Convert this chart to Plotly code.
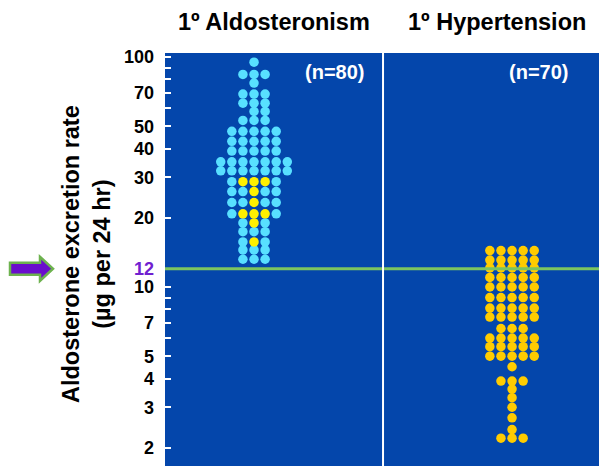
import math
import plotly.graph_objects as go

# Aldosterone excretion rate (µg per 24 hr), one entry per patient
aldo_cyan = [95,
             84, 84, 84,
             77,
             69, 69, 69,
             63, 63, 63,
             58, 58,
             53, 53, 53,
             47.5, 47.5, 47.5, 47.5, 47.5,
             43, 43, 43, 43, 43,
             39, 39, 39, 39, 39,
             35, 35, 35, 35, 35, 35, 35,
             32, 32, 32, 32, 32, 32, 32,
             28.7, 28.7,
             26, 26, 26, 26,
             23.3, 23.3, 23.3, 23.3,
             20.8, 20.8,
             19, 19,
             17.4, 17.4, 17.4,
             15.7, 15.7,
             14.5, 14.5, 14.5,
             13.2, 13.2, 13.2]
aldo_yellow = [28.7, 28.7, 28.7,
               26,
               23.3,
               20.8, 20.8, 20.8,
               19,
               15.7]
hyper = [14.4, 14.4, 14.4, 14.4, 14.4,
         13.1, 13.1, 13.1, 13.1, 13.1,
         12.1, 12.1, 12.1, 12.1, 12.1,
         11.0, 11.0, 11.0, 11.0, 11.0,
         10.0, 10.0, 10.0, 10.0, 10.0,
         9.0, 9.0, 9.0, 9.0, 9.0,
         8.1, 8.1, 8.1, 8.1, 8.1,
         7.4, 7.4, 7.4, 7.4, 7.4,
         6.6, 6.6, 6.6,
         6.0, 6.0, 6.0, 6.0, 6.0,
         5.5, 5.5, 5.5, 5.5, 5.5,
         5.0, 5.0, 5.0, 5.0, 5.0,
         4.5,
         3.9, 3.9, 3.9,
         3.6,
         3.3,
         3.0,
         2.7,
         2.4,
         2.2, 2.2, 2.2]

group_titles = ["1º Aldosteronism", "1º Hypertension"]
group_counts = ["(n=80)", "(n=70)"]
cutoff = 12

tick_vals = [2, 3, 4, 5, 7, 10, 12, 20, 30, 40, 50, 70, 100]
minor_vals = [6, 8, 9, 60, 80, 90]

CYAN, YELLOW, GOLD = "#58E0FF", "#FFF000", "#FFCC00"
BLUE, GREEN, PURPLE = "#0446AB", "#7CC55F", "#7020D0"

W, H = 599, 466
ML, MT = 165, 53
PW, PH = W - ML, H - MT
XR = [-1.69, 1.674]
YR = [0.2217, 2.0174]
STEP = 0.086


def swarm(groups, center):
    """Stack equal values into a row; the first colour flanks, others sit in the middle."""
    rows = {}
    for vals, col in groups:
        for v in vals:
            rows.setdefault(v, []).append(col)
    out = {col: ([], []) for _, col in groups}
    base_col = groups[0][1]
    for v, cols in rows.items():
        base = [c for c in cols if c == base_col]
        mid = [c for c in cols if c != base_col]
        order = base[:len(base) // 2] + mid + base[len(base) // 2:]
        n = len(order)
        for i, c in enumerate(order):
            out[c][0].append(center + (i - (n - 1) // 2) * STEP)
            out[c][1].append(v)
    return out


fig = go.Figure()

for center, groups in [(-1, [(aldo_cyan, CYAN), (aldo_yellow, YELLOW)]),
                       (1, [(hyper, GOLD)])]:
    pts = swarm(groups, center)
    for col, (xs, ys) in pts.items():
        fig.add_trace(go.Scatter(x=xs, y=ys, mode="markers",
                                 marker=dict(color=col, size=9.5, line=dict(width=0)),
                                 hoverinfo="y", showlegend=False))

# reference level
fig.add_trace(go.Scatter(x=XR, y=[cutoff, cutoff], mode="lines",
                         line=dict(color=GREEN, width=3),
                         hoverinfo="skip", showlegend=False))

# divider between the two groups
fig.add_shape(type="line", xref="x", yref="paper", x0=0, x1=0, y0=0, y1=1,
              line=dict(color="white", width=2))

tick_text = [f"<span style='color:{PURPLE}'>{v}</span>" if v == cutoff else str(v)
             for v in tick_vals]

fig.update_layout(
    width=W, height=H,
    margin=dict(l=ML, r=0, t=MT, b=0),
    paper_bgcolor="white", plot_bgcolor=BLUE,
    showlegend=False,
    xaxis=dict(range=XR, visible=False, fixedrange=True),
    yaxis=dict(type="log", range=YR, tickmode="array", tickvals=tick_vals,
               ticktext=tick_text, ticks="inside", ticklen=6, tickwidth=1.5,
               tickcolor="white", showgrid=False, zeroline=False, showline=False,
               layer="below traces", ticklabelstandoff=10,
               tickfont=dict(family="Liberation Sans, Arial", size=18,
                             color="black", weight="bold"),
               minor=dict(tickmode="array", tickvals=minor_vals, ticks="inside",
                          ticklen=6, tickwidth=1.5, tickcolor="white",
                          showgrid=False)),
)


def px_x(p):
    return (p - ML) / PW


def px_y(p):
    return (H - p) / PH


for t, cx in zip(group_titles, [274, 497]):
    fig.add_annotation(text=t, xref="paper", yref="paper", x=px_x(cx), y=px_y(22),
                       showarrow=False, xanchor="center", yanchor="middle",
                       font=dict(family="Liberation Sans, Arial", size=23.5,
                                 color="black", weight="bold"))

for t, cx in zip(group_counts, [334, 538]):
    fig.add_annotation(text=t, xref="paper", yref="paper", x=px_x(cx), y=px_y(72),
                       showarrow=False, xanchor="center", yanchor="middle",
                       font=dict(family="Liberation Sans, Arial", size=20,
                                 color="white", weight="bold"))

fig.add_annotation(text="Aldosterone excretion rate<br>(µg per 24 hr)",
                   xref="paper", yref="paper", x=px_x(86), y=px_y(254),
                   textangle=-90, showarrow=False, xanchor="center", yanchor="middle",
                   font=dict(family="Liberation Sans, Arial", size=23.5,
                             color="black", weight="bold"))

# block arrow pointing at the reference level
cy = MT + (YR[1] - math.log10(cutoff)) / (YR[1] - YR[0]) * PH
arrow = [(10, cy - 6), (40, cy - 6), (40, cy - 12), (53, cy), (40, cy + 12),
         (40, cy + 6), (10, cy + 6)]
path = "M " + " L ".join(f"{px_x(a):.5f},{px_y(b):.5f}" for a, b in arrow) + " Z"
fig.add_shape(type="path", xref="paper", yref="paper", path=path,
              fillcolor="#6A0DCC", line=dict(color="#6DB24E", width=2.5))

fig.write_html("out.html")
